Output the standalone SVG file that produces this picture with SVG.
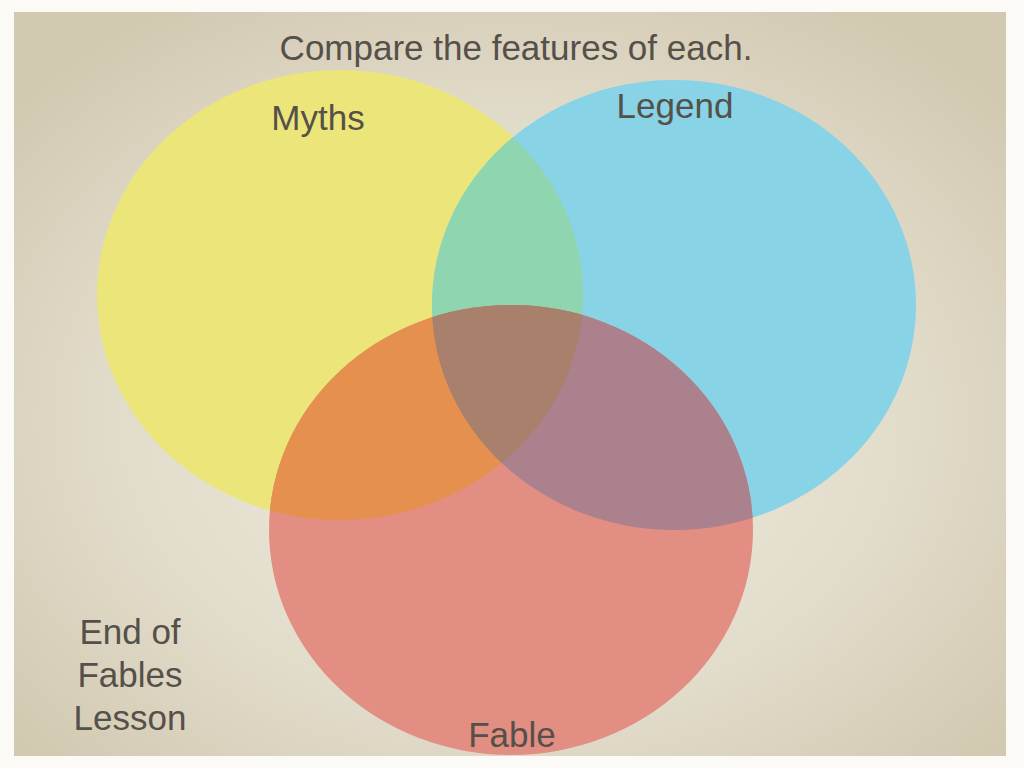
<svg xmlns="http://www.w3.org/2000/svg" width="1024" height="768" viewBox="0 0 1024 768">
<defs>
<radialGradient id="bg" cx="0.5" cy="0.55" r="0.65">
<stop offset="0" stop-color="#f1ece0"/><stop offset="0.6" stop-color="#e2dccb"/><stop offset="1" stop-color="#d2c9b1"/>
</radialGradient>
<clipPath id="cy"><ellipse cx="340" cy="295" rx="243" ry="225"/></clipPath>
<clipPath id="cb"><ellipse cx="674" cy="305" rx="242" ry="225"/></clipPath>
<clipPath id="cr"><ellipse cx="511" cy="530" rx="242" ry="225"/></clipPath>
<style>text{font-family:"Liberation Sans",Arial,sans-serif;fill:#555049;text-anchor:middle;font-size:35px}</style>
</defs>
<rect width="1024" height="768" fill="#fbfaf6"/>
<rect x="14" y="12" width="992" height="744" fill="url(#bg)"/>
<g id="myths"><ellipse cx="340" cy="295" rx="243" ry="225" fill="#ece67a"/></g>
<g id="legend"><ellipse cx="674" cy="305" rx="242" ry="225" fill="#88d3e6"/>
<ellipse cx="674" cy="305" rx="242" ry="225" fill="#8fd6b0" clip-path="url(#cy)"/></g>
<g id="fable"><ellipse cx="511" cy="530" rx="242" ry="225" fill="#e38e82"/>
<g clip-path="url(#cr)"><ellipse cx="340" cy="295" rx="243" ry="225" fill="#e6904f"/>
<ellipse cx="674" cy="305" rx="242" ry="225" fill="#aa818c"/>
<g clip-path="url(#cy)"><ellipse cx="674" cy="305" rx="242" ry="225" fill="#a9806b"/></g></g></g>
<text x="516" y="60" font-size="36">Compare the features of each.</text>
<text x="318" y="130">Myths</text>
<text x="675" y="118">Legend</text>
<text x="130" y="644">End of</text>
<text x="130" y="687">Fables</text>
<text x="130" y="730">Lesson</text>
<text x="512" y="747">Fable</text>
</svg>
